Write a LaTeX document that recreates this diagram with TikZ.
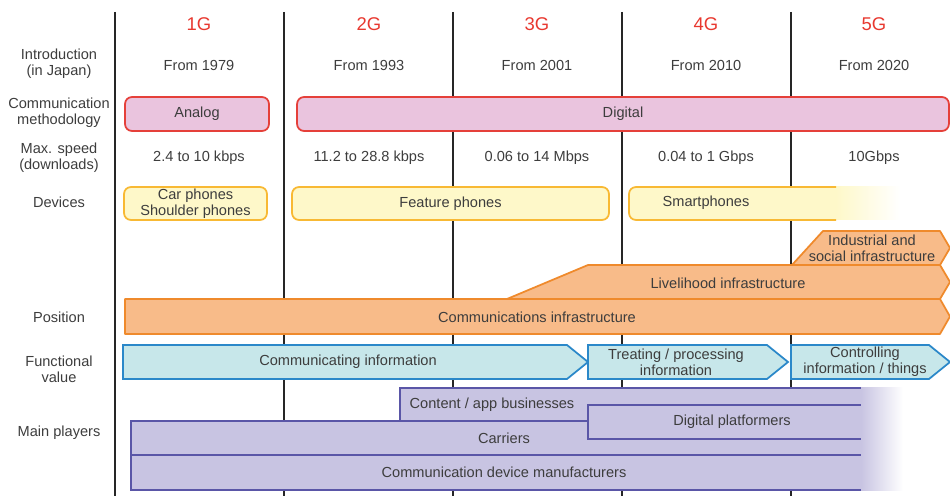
\documentclass[tikz,border=0pt]{standalone}
\usepackage{fontspec}
\setmainfont{Liberation Sans}
\usepackage{tikz}
\definecolor{genred}{HTML}{E8382F}
\definecolor{txtgray}{HTML}{3D3D3D}
\definecolor{methfill}{HTML}{EAC4DE}
\definecolor{methline}{HTML}{E5403A}
\definecolor{devfill}{HTML}{FEF8C9}
\definecolor{devline}{HTML}{F8B934}
\definecolor{posfill}{HTML}{F8BB89}
\definecolor{posline}{HTML}{EF8A2C}
\definecolor{valfill}{HTML}{C7E7EA}
\definecolor{valline}{HTML}{2B88C9}
\definecolor{playfill}{HTML}{C8C4E2}
\definecolor{playline}{HTML}{5A56A7}

\begin{document}
\begin{tikzpicture}[x=0.02cm,y=-0.02cm,
  every node/.style={font=\fontsize{8.3}{9.1}\selectfont,text=txtgray,align=center,inner sep=0pt},
  gen/.style={font=\fontsize{10.5}{12}\selectfont,text=genred},
  gridline/.style={line width=1.1pt,draw=black!85},
  methbox/.style={draw=methline,fill=methfill,line width=1pt,rounded corners=4pt,minimum height=0.68cm},
  devbox/.style={draw=devline,fill=devfill,line width=1pt,rounded corners=4pt,minimum height=0.66cm},
  posshape/.style={draw=posline,fill=posfill,line width=1pt,line join=round},
  valshape/.style={draw=valline,fill=valfill,line width=1pt},
  playshape/.style={draw=playline,fill=playfill,line width=1pt}]
\useasboundingbox (0,0) rectangle (950,496);

% column lines
\foreach \x in {115,284,453,622,791}
  \draw[gridline] (\x,12) -- (\x,496);

% row titles
\node (intro) at (59,64) {Introduction\\(in Japan)};
\node (meth) at (59,113) {Communication\\methodology};
\node (speed) at (59,158) {Max. speed\\(downloads)};
\node (dev) at (59,202) {Devices};
\node (pos) at (59,317) {Position};
\node (val) at (59,369) {Functional\\value};
\node (play) at (59,433) {Main players};

% generations
\node[gen] (g1) at (199,24) {1G};
\node[gen] (g2) at (369,24) {2G};
\node[gen] (g3) at (537,24) {3G};
\node[gen] (g4) at (706,24) {4G};
\node[gen] (g5) at (874,24) {5G};

\node (y1) at (199,65) {From 1979};
\node (y2) at (369,65) {From 1993};
\node (y3) at (537,65) {From 2001};
\node (y4) at (706,65) {From 2010};
\node (y5) at (874,65) {From 2020};

% communication methodology
\node[methbox,minimum width=2.88cm] (analog) at (197,114) {Analog};
\node[methbox,minimum width=13.04cm] (digital) at (623,114) {Digital};

% speeds
\node (s1) at (199,158) {2.4 to 10 kbps};
\node (s2) at (369,158) {11.2 to 28.8 kbps};
\node (s3) at (537,158) {0.06 to 14 Mbps};
\node (s4) at (706,158) {0.04 to 1 Gbps};
\node (s5) at (874,158) {10Gbps};

% devices
\node[devbox,minimum width=2.86cm] (carph) at (195.5,203.5) {Car phones\\Shoulder phones};
\node[devbox,minimum width=6.34cm] (feat) at (450.5,203.5) {Feature phones};
\fill[devfill,rounded corners=4pt] (629,187) rectangle (846,220);
\shade[left color=devfill,right color=white] (836,187) rectangle (900,220);
\draw[devline,line width=1pt,rounded corners=4pt] (836,187) -- (629,187) -- (629,220) -- (836,220);
\node (smart) at (706,203) {Smartphones};

% position
\draw[posshape] (125,299) -- (940,299) -- (950,316.5) -- (940,334) -- (125,334) -- cycle;
\draw[posshape] (507,299) -- (588,265) -- (940,265) -- (950,282) -- (940,299) -- cycle;
\draw[posshape] (792,265) -- (823,231) -- (940,231) -- (950,248) -- (940,265) -- cycle;
\node (comminf) at (537,317) {Communications infrastructure};
\node (liveinf) at (728,283) {Livelihood infrastructure};
\node (indinf) at (872,248) {Industrial and\\social infrastructure};

% functional value
\draw[valshape] (123,345) -- (567,345) -- (588,362) -- (567,379) -- (123,379) -- cycle;
\draw[valshape] (588,345) -- (767,345) -- (788,362) -- (767,379) -- (588,379) -- cycle;
\draw[valshape] (791,345) -- (929,345) -- (950,362) -- (929,379) -- (791,379) -- cycle;
\node (commval) at (348,362) {Communicating information};
\node (treatval) at (676,362) {Treating / processing\\information};
\node (ctrlval) at (865,362) {Controlling\\information / things};

% main players
\fill[playfill] (400,388) rectangle (861,421);
\draw[playline,line width=1pt] (861,388) -- (400,388) -- (400,421) -- (861,421);
\fill[playfill] (131,421) rectangle (861,490);
\draw[playline,line width=1pt] (861,421) -- (131,421) -- (131,490) -- (861,490);
\draw[playline,line width=1pt] (131,455) -- (861,455);
\fill[playfill] (588,405) rectangle (861,439);
\draw[playline,line width=1pt] (861,405) -- (588,405) -- (588,439) -- (861,439);
\shade[left color=playfill,right color=white] (861,388) rectangle (903,490);
\node (content) at (492,405) {Content / app businesses};
\node (platf) at (732,422) {Digital platformers};
\node (carr) at (504,438) {Carriers};
\node (manuf) at (504,472) {Communication device manufacturers};
\end{tikzpicture}
\end{document}
